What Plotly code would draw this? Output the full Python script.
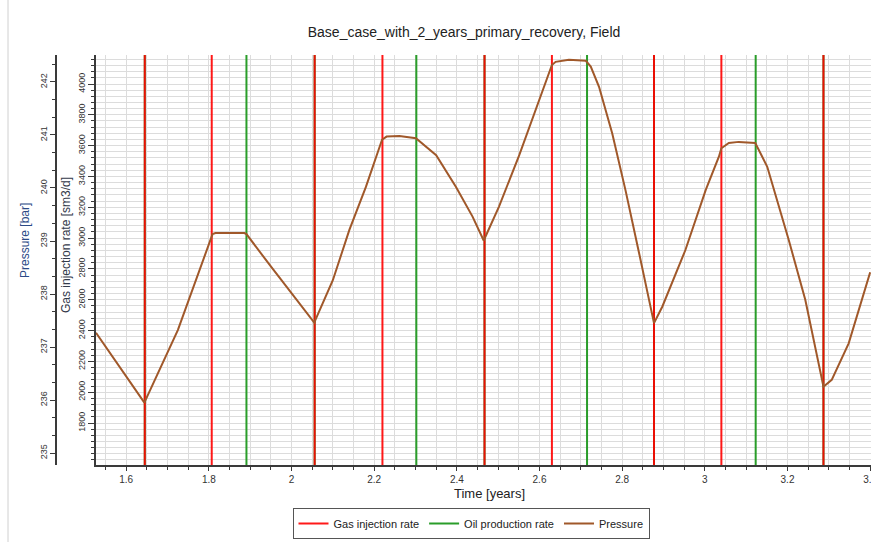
import plotly.graph_objects as go

# ---------------- data ----------------
time_pressure = [1.527, 1.644, 1.725, 1.765, 1.809, 1.816, 1.886, 1.891, 1.95, 2.055,
                 2.10, 2.14, 2.18, 2.219, 2.23, 2.261, 2.301, 2.35, 2.398, 2.438,
                 2.465, 2.502, 2.551, 2.630, 2.639, 2.671, 2.712, 2.724, 2.744, 2.776,
                 2.808, 2.841, 2.877, 2.897, 2.953, 3.002, 3.034, 3.040, 3.058, 3.082,
                 3.122, 3.151, 3.203, 3.243, 3.287, 3.307, 3.348, 3.40]
pressure_bar = [237.27, 235.95, 237.32, 238.20, 239.13, 239.15, 239.15, 239.13, 238.52, 237.46,
                238.26, 239.21, 240.02, 240.91, 240.97, 240.98, 240.94, 240.62, 240.02, 239.46,
                239.01, 239.65, 240.62, 242.32, 242.38, 242.42, 242.40, 242.29, 241.91, 241.03,
                239.96, 238.77, 237.45, 237.76, 238.83, 239.96, 240.59, 240.75, 240.85, 240.87,
                240.85, 240.40, 239.02, 237.89, 236.25, 236.38, 237.07, 238.41]

# step schedules (value holds from the time until the next time)
gas_inj_time = [1.50, 1.645, 1.807, 2.056, 2.220, 2.467, 2.630, 2.877, 3.040, 3.287, 3.45]
gas_inj_rate = [0, 500000, 0, 500000, 0, 500000, 0, 500000, 0, 500000, 500000]

oil_prod_time = [1.50, 1.645, 1.891, 2.056, 2.302, 2.467, 2.715, 2.877, 3.123, 3.287, 3.45]
oil_prod_rate = [8000, 0, 8000, 0, 8000, 0, 8000, 0, 8000, 0, 0]

gas_axis_ticks = [1800, 2000, 2200, 2400, 2600, 2800, 3000, 3200, 3400, 3600, 3800, 4000]

title_text = "Base_case_with_2_years_primary_recovery, Field"

# ---------------- figure ----------------
FONT = "Liberation Sans, Arial, sans-serif"
W, H = 871, 542
ML, MR, MT, MB = 56, 0, 55, 77
PW = W - ML - MR
PH = H - MT - MB

def px_x(px):
    return (px - ML) / PW

def px_y(py):
    return (H - MB - py) / PH

fig = go.Figure()

fig.add_trace(go.Scatter(
    x=oil_prod_time, y=oil_prod_rate, name="Oil production rate", mode="lines",
    line=dict(color="#2a9d2a", width=2, shape="hv"), yaxis="y", legendrank=2,
    hoverinfo="skip"))
fig.add_trace(go.Scatter(
    x=gas_inj_time, y=gas_inj_rate, name="Gas injection rate", mode="lines",
    line=dict(color="#ff0000", width=2, shape="hv"), opacity=0.9, yaxis="y",
    legendrank=1, hoverinfo="skip"))
fig.add_trace(go.Scatter(
    x=time_pressure, y=pressure_bar, name="Pressure", mode="lines",
    line=dict(color="#a0582a", width=2), yaxis="y2", legendrank=3))

grid_col = "#dcdcdc"
axis_col = "#3a3a3a"

fig.update_layout(
    width=W, height=H,
    margin=dict(l=ML, r=MR, t=MT, b=MB, autoexpand=False),
    paper_bgcolor="white", plot_bgcolor="white",
    font=dict(family=FONT, color="#333333"),
    showlegend=True,
    title=dict(text=title_text, x=464 / W, xanchor="center", y=1 - 32 / H, yanchor="middle",
               font=dict(size=14, color="#222222", family=FONT)),
    xaxis=dict(
        domain=[px_x(96), 1], range=[1.527, 3.402], automargin=False,
        tick0=1.6, dtick=0.2, ticks="outside", ticklen=4, tickcolor=axis_col,
        ticklabeloverflow="allow",
        showline=True, linecolor=axis_col, linewidth=1.5,
        showgrid=True, gridcolor=grid_col, gridwidth=1.3,
        tickfont=dict(size=10, color="#333333"),
        minor=dict(dtick=0.05, tick0=1.6, ticks="outside", ticklen=3, tickcolor=axis_col,
                   showgrid=True, gridcolor=grid_col, gridwidth=1.3),
        zeroline=False,
    ),
    yaxis=dict(
        anchor="x", side="left", range=[1527.4, 4188.2], automargin=False,
        tickmode="array", tickvals=gas_axis_ticks, tickangle=-90,
        ticks="outside", ticklen=6, tickcolor=axis_col,
        showline=True, linecolor=axis_col, linewidth=1.5,
        showgrid=True, gridcolor=grid_col, gridwidth=1.3,
        tickfont=dict(size=9, color="#333333"),
        minor=dict(dtick=40, tick0=1800, ticks="outside", ticklen=3, tickcolor=axis_col,
                   showgrid=True, gridcolor=grid_col, gridwidth=1.3),
        zeroline=False,
    ),
    yaxis2=dict(
        overlaying="y", anchor="free", position=0, side="left",
        range=[234.774, 242.509], automargin=False,
        tick0=235, dtick=1, tickangle=-90, ticks="outside", ticklen=5, tickcolor=axis_col,
        showline=True, linecolor=axis_col, linewidth=1.5, showgrid=False,
        tickfont=dict(size=9, color="#333333"),
        minor=dict(dtick=1 / 3, tick0=235, ticks="outside", ticklen=3, tickcolor=axis_col,
                   showgrid=False),
        zeroline=False,
    ),
    legend=dict(
        orientation="h", x=px_x(471), xanchor="center", y=px_y(508), yanchor="top",
        bordercolor="#555555", borderwidth=1, bgcolor="white",
        font=dict(size=11, color="#222222", family=FONT),
        itemwidth=30, traceorder="normal",
    ),
    annotations=[
        dict(text="Pressure [bar]", x=px_x(25), y=px_y(240), xref="paper", yref="paper",
             textangle=-90, showarrow=False, xanchor="center", yanchor="middle",
             font=dict(size=12, color="#2b4a86", family=FONT)),
        dict(text="Gas injection rate [sm3/d]", x=px_x(66), y=px_y(245), xref="paper",
             yref="paper", textangle=-90, showarrow=False, xanchor="center", yanchor="middle",
             font=dict(size=12, color="#333a4a", family=FONT)),
        dict(text="Time [years]", x=px_x(489), y=px_y(493), xref="paper", yref="paper",
             showarrow=False, xanchor="center", yanchor="middle",
             font=dict(size=13, color="#222222", family=FONT)),
    ],
    shapes=[
        dict(type="line", xref="paper", yref="paper", x0=px_x(8), x1=px_x(8),
             y0=px_y(542), y1=px_y(0), line=dict(color="#d0d0d0", width=1)),
    ],
)

fig.write_html("out.html")
